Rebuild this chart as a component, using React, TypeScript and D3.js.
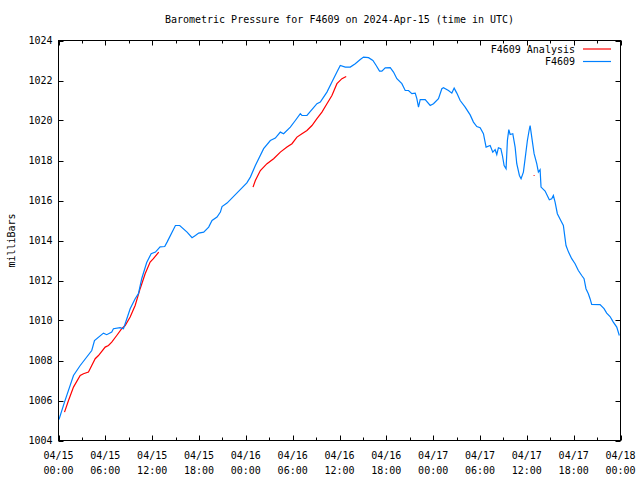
import React from "react";
import * as d3 from "d3";

// ---- data ----
const START = Date.UTC(2024, 3, 15, 0, 0);
const END = Date.UTC(2024, 3, 18, 0, 0);

// F4609 observations: hours since 2024-04-15 00:00 UTC, pressure (mb)
const obsHours = [
  0.06, 0.77, 1.92, 2.78, 4.26, 4.61, 5.76, 6.18, 6.82, 7.04, 7.9, 8.32, 8.54, 9.18, 9.82, 10.24,
  10.66, 11.3, 11.87, 12.42, 13.02, 13.61, 13.91, 14.98, 15.53, 16.47, 17.11, 17.54, 17.96, 18.6,
  19.24, 19.67, 20.31, 20.74, 20.95, 21.59, 24.13, 24.58, 25.22, 26.28, 27.14, 27.78, 28.42,
  28.84, 29.7, 30.34, 30.98, 31.19, 31.83, 33.11, 33.54, 34.39, 35.03, 35.67, 36.1, 36.74, 37.38,
  38.02, 38.66, 39.08, 39.72, 40.28, 40.7, 41.13, 41.43, 41.86, 42.5, 42.92, 43.35, 43.99, 44.42,
  44.84, 45.27, 45.7, 45.91, 46.12, 46.34, 46.98, 47.62, 48.04, 48.68, 49.11, 49.32, 49.96, 50.39,
  50.69, 51.03, 51.46, 52.1, 52.74, 53.16, 53.59, 54.02, 54.44, 54.78, 55.3, 55.64, 55.94, 56.15,
  56.36, 56.67, 56.87, 57.09, 57.34, 57.51, 57.69, 57.86, 58.2, 58.5, 58.71, 59.05, 59.26, 59.56,
  59.78, 60.07, 60.29, 60.42, 60.63, 60.93, 61.27, 61.48, 61.7, 61.82, 62.34, 62.88, 63.19, 63.4,
  63.62, 63.91, 64.35, 64.68, 64.9, 65.02, 65.34, 65.75, 66.18, 66.6, 67.03, 67.33, 67.58, 67.88,
  68.1, 68.31, 69.38, 69.89, 70.23, 70.66, 71.08, 71.52, 71.85,
];
const obsPressure = [
  1005.05, 1005.92, 1007.25, 1007.75, 1008.5, 1009.0, 1009.37, 1009.29, 1009.42, 1009.59, 1009.64,
  1009.59, 1009.84, 1010.59, 1011.09, 1011.34, 1012.09, 1012.9, 1013.34, 1013.42, 1013.68, 1013.7,
  1013.92, 1014.75, 1014.75, 1014.42, 1014.14, 1014.25, 1014.37, 1014.42, 1014.67, 1015.0,
  1015.17, 1015.42, 1015.7, 1015.87, 1016.88, 1017.17, 1017.75, 1018.59, 1019.0, 1019.12,
  1019.42, 1019.34, 1019.67, 1020.0, 1020.34, 1020.25, 1020.25, 1020.84, 1020.92, 1021.42,
  1021.92, 1022.42, 1022.75, 1022.67, 1022.67, 1022.84, 1023.05, 1023.17, 1023.14, 1023.0,
  1022.75, 1022.47, 1022.47, 1022.63, 1022.64, 1022.42, 1022.09, 1021.84, 1021.5, 1021.5,
  1021.34, 1021.37, 1021.09, 1020.67, 1021.04, 1021.04, 1020.75, 1020.84, 1021.09, 1021.59,
  1021.64, 1021.5, 1021.37, 1021.62, 1021.37, 1021.0, 1020.67, 1020.28, 1019.92, 1019.7, 1019.64,
  1019.34, 1018.67, 1018.75, 1018.42, 1018.54, 1018.3, 1018.64, 1018.59, 1018.25, 1017.75,
  1017.59, 1019.0, 1019.54, 1019.3, 1019.34, 1018.67, 1017.84, 1017.25, 1017.09, 1017.42,
  1018.09, 1019.0, 1019.5, 1019.75, 1019.17, 1018.34, 1017.84, 1017.42, 1017.54, 1016.67,
  1016.47, 1016.04, 1016.09, 1016.25, 1015.92, 1015.34, 1015.0, 1014.75, 1014.09, 1013.75,
  1013.42, 1013.09, 1012.84, 1012.5, 1012.25, 1012.09, 1011.59, 1011.34, 1011.09, 1010.8,
  1010.79, 1010.59, 1010.37, 1010.2, 1009.92, 1009.67, 1009.25,
];

// F4609 Analysis: NaN marks a gap
const anaHours = [
  0.77, 1.28, 1.92, 2.78, 3.2, 3.84, 4.26, 4.7, 5.12, 5.98, 6.4, 6.82, 7.46, 8.1, 8.54, 9.18, 9.82,
  10.46, 11.1, 11.74, 12.16, 12.84, 18.0, 24.92, 25.22, 25.86, 26.71, 27.56, 28.42, 29.27, 29.91,
  30.55, 31.19, 31.83, 32.47, 33.11, 33.75, 34.39, 35.03, 35.67, 36.31, 36.86, 48.0, 60.93,
];
const anaPressure = [
  1005.42, 1006.0, 1006.67, 1007.25, 1007.34, 1007.42, 1007.75, 1008.09, 1008.25, 1008.67,
  1008.75, 1008.92, 1009.25, 1009.59, 1009.75, 1010.17, 1010.75, 1011.59, 1012.34, 1012.92,
  1013.09, 1013.42, NaN, 1016.67, 1017.0, 1017.5, 1017.84, 1018.09, 1018.42, 1018.67, 1018.84,
  1019.17, 1019.34, 1019.5, 1019.75, 1020.09, 1020.42, 1020.84, 1021.25, 1021.84, 1022.09,
  1022.2, NaN, 1017.25,
];

const yTicks = [1004, 1006, 1008, 1010, 1012, 1014, 1016, 1018, 1020, 1022, 1024];
const TITLE = "Barometric Pressure for F4609 on 2024-Apr-15 (time in UTC)";
const Y_LABEL = "milliBars";
const SERIES_NAMES = ["F4609 Analysis", "F4609"];
const SERIES_COLORS = ["#ff0000", "#0080ff"];

const FONT = "'DejaVu Sans Mono', 'Liberation Mono', monospace";

export default function App() {
  const W = 640,
    H = 480;
  const L = 58.5,
    R = 620.5,
    T = 40.5,
    B = 440.5;

  const x = d3.scaleUtc().domain([new Date(START), new Date(END)]).range([L, R]);
  const y = d3.scaleLinear().domain([1004, 1024]).range([B, T]);
  const toDate = (h: number) => new Date(START + h * 3600000);

  const obs = obsHours.map((h, i) => ({ d: toDate(h), v: obsPressure[i] }));
  const ana = anaHours.map((h, i) => ({ d: toDate(h), v: anaPressure[i] }));

  const line = d3
    .line<{ d: Date; v: number }>()
    .defined((p) => !isNaN(p.v))
    .x((p) => x(p.d))
    .y((p) => y(p.v));

  const isolated = ana.filter(
    (p, i) =>
      !isNaN(p.v) &&
      (i === 0 || isNaN(ana[i - 1].v)) &&
      (i === ana.length - 1 || isNaN(ana[i + 1].v))
  );

  const majorTicks = x.ticks(d3.utcHour.every(6)!);
  const minorTicks = x.ticks(d3.utcHour.every(3)!).filter((t) => t.getUTCHours() % 6 !== 0);
  const fmtDate = d3.utcFormat("%m/%d");
  const fmtTime = d3.utcFormat("%H:%M");

  return (
    <svg
      width={W}
      height={H}
      style={{ position: "absolute", left: 0, top: 0, background: "#fff" }}
      fontFamily={FONT}
      fontSize={10}
    >
      <rect x={0} y={0} width={W} height={H} fill="#fff" />
      <text x={(L + R) / 2} y={23} textAnchor="middle" fill="#000">
        {TITLE}
      </text>
      <text
        transform={`translate(15,${(T + B) / 2}) rotate(-90)`}
        textAnchor="middle"
        fill="#000"
      >
        {Y_LABEL}
      </text>

      {/* y ticks */}
      {yTicks.map((t) => (
        <g key={"y" + t}>
          <line x1={L} x2={L + 5} y1={Math.round(y(t)) + 0.5} y2={Math.round(y(t)) + 0.5} stroke="#000" />
          <line x1={R - 5} x2={R} y1={Math.round(y(t)) + 0.5} y2={Math.round(y(t)) + 0.5} stroke="#000" />
          <text x={L - 6} y={y(t) + 3.5} textAnchor="end" fill="#000">
            {t}
          </text>
        </g>
      ))}

      {/* x ticks */}
      {majorTicks.map((t, i) => {
        const xx = Math.round(x(t)) + 0.5;
        return (
          <g key={"x" + i}>
            <line x1={xx} x2={xx} y1={B} y2={B - 5} stroke="#000" />
            <line x1={xx} x2={xx} y1={T} y2={T + 5} stroke="#000" />
            <text x={x(t)} y={459} textAnchor="middle" fill="#000">
              {fmtDate(t)}
            </text>
            <text x={x(t)} y={474} textAnchor="middle" fill="#000">
              {fmtTime(t)}
            </text>
          </g>
        );
      })}
      {minorTicks.map((t, i) => {
        const xx = Math.round(x(t)) + 0.5;
        return (
          <g key={"m" + i}>
            <line x1={xx} x2={xx} y1={B} y2={B - 3} stroke="#000" />
            <line x1={xx} x2={xx} y1={T} y2={T + 3} stroke="#000" />
          </g>
        );
      })}

      {/* series */}
      <path d={line(ana) || ""} fill="none" stroke={SERIES_COLORS[0]} strokeWidth={1.2} />
      {isolated.map((p, i) => (
        <rect
          key={"iso" + i}
          x={x(p.d) - 0.5}
          y={y(p.v) - 0.5}
          width={1}
          height={1}
          fill={SERIES_COLORS[0]}
        />
      ))}
      <path d={line(obs) || ""} fill="none" stroke={SERIES_COLORS[1]} strokeWidth={1.2} />

      {/* frame */}
      <rect x={L} y={T} width={R - L} height={B - T} fill="none" stroke="#000" />

      {/* legend */}
      {SERIES_NAMES.map((n, i) => (
        <g key={"lg" + i}>
          <text x={575} y={52.5 + i * 12.5} textAnchor="end" fill="#000">
            {n}
          </text>
          <line
            x1={583}
            x2={611}
            y1={49 + i * 12.5}
            y2={49 + i * 12.5}
            stroke={SERIES_COLORS[i]}
            strokeWidth={1.2}
          />
        </g>
      ))}
    </svg>
  );
}
